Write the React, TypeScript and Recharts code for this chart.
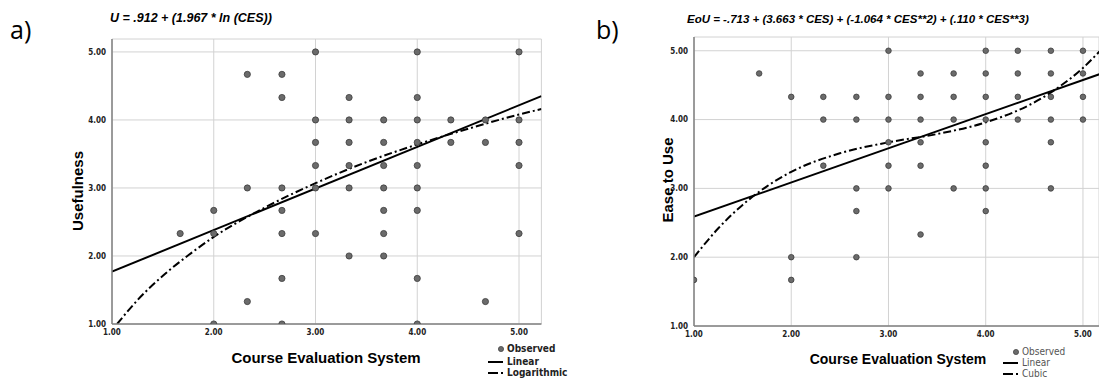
import React from "react";
import { CartesianGrid, ComposedChart, Line, Scatter, XAxis, YAxis } from "recharts";

// shared x ticks (Course Evaluation System)
const cesTicks = [1, 2, 3, 4, 5];
const scoreTicks = [1, 2, 3, 4, 5];

// a) Usefulness vs CES, observed
const usefulCes = [
  1.67, 2, 2, 2, 2.33, 2.33, 2.33, 2.67, 2.67, 2.67, 2.67, 2.67, 2.67, 2.67,
  3, 3, 3, 3, 3, 3, 3.33, 3.33, 3.33, 3.33, 3.33, 3.33,
  3.67, 3.67, 3.67, 3.67, 3.67, 3.67, 3.67, 4, 4, 4, 4, 4, 4, 4, 4, 4,
  4.33, 4.33, 4.67, 4.67, 4.67, 5, 5, 5, 5, 5,
];
const usefulObs = [
  2.33, 2.67, 2.33, 1, 4.67, 3, 1.33, 4.67, 4.33, 3, 2.67, 2.33, 1.67, 1,
  5, 4, 3.67, 3.33, 3, 2.33, 4.33, 4, 3.67, 3.33, 3, 2,
  4, 3.67, 3.33, 3, 2.67, 2.33, 2, 5, 4.33, 4, 3.67, 3.33, 3, 2.67, 1.67, 1,
  4, 3.67, 4, 3.67, 1.33, 5, 4, 3.67, 3.33, 2.33,
];
// a) fitted curves
const usefulLinX = [1, 5.22];
const usefulLinY = [1.77, 4.35];
const usefulLogX = [1.05, 1.25, 1.5, 1.75, 2, 2.5, 3, 3.5, 4, 4.5, 5, 5.22];
const usefulLogY = [1.0, 1.35, 1.71, 2.01, 2.28, 2.71, 3.07, 3.38, 3.64, 3.87, 4.08, 4.16];

// b) Ease to Use vs CES, observed
const easeCes = [
  1, 1.67, 2, 2, 2, 2.33, 2.33, 2.33, 2.67, 2.67, 2.67, 2.67, 2.67,
  3, 3, 3, 3, 3, 3, 3.33, 3.33, 3.33, 3.33, 3.33, 3.33, 3.67, 3.67, 3.67, 3.67,
  4, 4, 4, 4, 4, 4, 4, 4, 4.33, 4.33, 4.33, 4.33,
  4.67, 4.67, 4.67, 4.67, 4.67, 4.67, 5, 5, 5, 5,
];
const easeObs = [
  1.67, 4.67, 4.33, 2, 1.67, 4.33, 4, 3.33, 4.33, 4, 3, 2.67, 2,
  5, 4.33, 4, 3.67, 3.33, 3, 4.67, 4.33, 4, 3.67, 3.33, 2.33, 4.67, 4.33, 4, 3,
  5, 4.67, 4.33, 4, 3.67, 3.33, 3, 2.67, 5, 4.67, 4.33, 4,
  5, 4.67, 4.33, 4, 3.67, 3, 5, 4.67, 4.33, 4,
];
// b) fitted curves
const easeLinX = [1, 5.17];
const easeLinY = [2.59, 4.66];
const easeCubX = [1, 1.25, 1.5, 1.75, 2, 2.5, 3, 3.5, 4, 4.5, 4.75, 5, 5.17];
const easeCubY = [2.0, 2.42, 2.76, 3.03, 3.24, 3.51, 3.67, 3.79, 3.96, 4.25, 4.47, 4.75, 4.99];

const zip = (xs: number[], ys: number[]) => xs.map((x, i) => ({ x, y: ys[i] }));

const GRID = "#d2d2d2";
const AXIS_LINE = "#808080";
const TICK_FONT = "'Liberation Sans Narrow', 'DejaVu Sans Condensed', sans-serif";
const LABEL_FONT = "'Liberation Sans', Arial, sans-serif";
const DASH_DOT = "8 3 2 3";

type PanelProps = {
  left: number;
  width: number;
  margin: { top: number; right: number; bottom: number; left: number };
  xMax: number;
  yMax: number;
  points: { x: number; y: number }[];
  lin: { x: number; y: number }[];
  curve: { x: number; y: number }[];
  dotR: number;
};

function Panel({ left, width, margin, xMax, yMax, points, lin, curve, dotR }: PanelProps) {
  const tick = { fontSize: 8, fontWeight: 700, fill: "#222", fontFamily: TICK_FONT };
  return (
    <div style={{ position: "absolute", left, top: 0 }}>
      <ComposedChart width={width} height={381} margin={margin}>
        <CartesianGrid stroke={GRID} strokeWidth={1} />
        <XAxis
          type="number"
          dataKey="x"
          domain={[1, xMax]}
          ticks={cesTicks}
          allowDataOverflow
          tickFormatter={(v: number) => v.toFixed(2)}
          tick={tick}
          tickLine={false}
          tickSize={0}
          tickMargin={5}
          height={30}
          axisLine={{ stroke: AXIS_LINE, strokeWidth: 1.5 }}
        />
        <YAxis
          type="number"
          dataKey="y"
          domain={[1, yMax]}
          ticks={scoreTicks}
          allowDataOverflow
          tickFormatter={(v: number) => v.toFixed(2)}
          tick={tick}
          tickLine={false}
          tickSize={0}
          tickMargin={6}
          width={40}
          axisLine={{ stroke: AXIS_LINE, strokeWidth: 1.5 }}
        />
        <Scatter
          data={points}
          isAnimationActive={false}
          shape={(p: any) => (
            <circle cx={p.cx} cy={p.cy} r={dotR} fill="#6b6b6b" stroke="#3c3c3c" strokeWidth={0.8} />
          )}
        />
        <Line
          data={lin}
          dataKey="y"
          type="linear"
          stroke="#000"
          strokeWidth={2}
          dot={false}
          isAnimationActive={false}
        />
        <Line
          data={curve}
          dataKey="y"
          type="monotone"
          stroke="#000"
          strokeWidth={2}
          strokeDasharray={DASH_DOT}
          dot={false}
          isAnimationActive={false}
        />
      </ComposedChart>
    </div>
  );
}

function LegendRow({ kind, text, bold, top, left }: { kind: "dot" | "line" | "dash"; text: string; bold: boolean; top: number; left: number }) {
  return (
    <div style={{ position: "absolute", left, top, display: "flex", alignItems: "center", height: 11 }}>
      <svg width={17} height={10}>
        {kind === "dot" && <circle cx={13} cy={5} r={2.6} fill="#6b6b6b" stroke="#3c3c3c" strokeWidth={0.7} />}
        {kind === "line" && <line x1={0} x2={15} y1={5} y2={5} stroke="#000" strokeWidth={2} />}
        {kind === "dash" && <line x1={0} x2={15} y1={5} y2={5} stroke="#000" strokeWidth={2} strokeDasharray="10 3 2 3" />}
      </svg>
      <span
        style={{
          fontFamily: TICK_FONT,
          fontSize: 10,
          fontWeight: bold ? 700 : 400,
          color: bold ? "#222" : "#555",
          marginLeft: 2,
          whiteSpace: "nowrap",
        }}
      >
        {text}
      </span>
    </div>
  );
}

export default function App() {
  const abs = (s: React.CSSProperties): React.CSSProperties => ({ position: "absolute", whiteSpace: "nowrap", ...s });
  return (
    <div style={{ position: "absolute", left: 0, top: 0, width: 1099, height: 381, background: "#fff", overflow: "hidden" }}>
      <Panel
        left={0}
        width={550}
        margin={{ top: 39, right: 8.6, bottom: 27, left: 72 }}
        xMax={5.22}
        yMax={5.19}
        points={zip(usefulCes, usefulObs)}
        lin={zip(usefulLinX, usefulLinY)}
        curve={zip(usefulLogX, usefulLogY)}
        dotR={3.1}
      />
      <Panel
        left={550}
        width={549}
        margin={{ top: 37, right: 0, bottom: 25, left: 104 }}
        xMax={5.165}
        yMax={5.2}
        points={zip(easeCes, easeObs)}
        lin={zip(easeLinX, easeLinY)}
        curve={zip(easeCubX, easeCubY)}
        dotR={2.8}
      />

      <div style={abs({ left: 10, top: 14, fontFamily: "'Open Sans', sans-serif", fontSize: 25, lineHeight: "30px" })}>a)</div>
      <div style={abs({ left: 596, top: 14, fontFamily: "'Open Sans', sans-serif", fontSize: 25, lineHeight: "30px" })}>b)</div>

      <div style={abs({ left: 110, top: 11, fontFamily: LABEL_FONT, fontSize: 12.5, fontWeight: 700, fontStyle: "italic" })}>
        U = .912 + (1.967 * ln (CES))
      </div>
      <div style={abs({ left: 687, top: 13, fontFamily: LABEL_FONT, fontSize: 11.5, fontWeight: 700, fontStyle: "italic" })}>
        EoU = -.713 + (3.663 * CES) + (-1.064 * CES**2) + (.110 * CES**3)
      </div>

      <div style={abs({ left: 77, top: 191, transform: "translate(-50%, -50%) rotate(-90deg)", fontFamily: LABEL_FONT, fontSize: 15, fontWeight: 700 })}>
        Usefulness
      </div>
      <div style={abs({ left: 667, top: 180, transform: "translate(-50%, -50%) rotate(-90deg)", fontFamily: LABEL_FONT, fontSize: 15, fontWeight: 700 })}>
        Ease to Use
      </div>

      <div style={abs({ left: 326, top: 357, transform: "translate(-50%, -50%)", fontFamily: LABEL_FONT, fontSize: 15, fontWeight: 700 })}>
        Course Evaluation System
      </div>
      <div style={abs({ left: 898, top: 359, transform: "translate(-50%, -50%)", fontFamily: LABEL_FONT, fontSize: 14, fontWeight: 700 })}>
        Course Evaluation System
      </div>

      <LegendRow kind="dot" text="Observed" bold top={343} left={488} />
      <LegendRow kind="line" text="Linear" bold top={356} left={488} />
      <LegendRow kind="dash" text="Logarithmic" bold top={367} left={488} />

      <LegendRow kind="dot" text="Observed" bold={false} top={346} left={1003} />
      <LegendRow kind="line" text="Linear" bold={false} top={357} left={1003} />
      <LegendRow kind="dash" text="Cubic" bold={false} top={368} left={1003} />
    </div>
  );
}
